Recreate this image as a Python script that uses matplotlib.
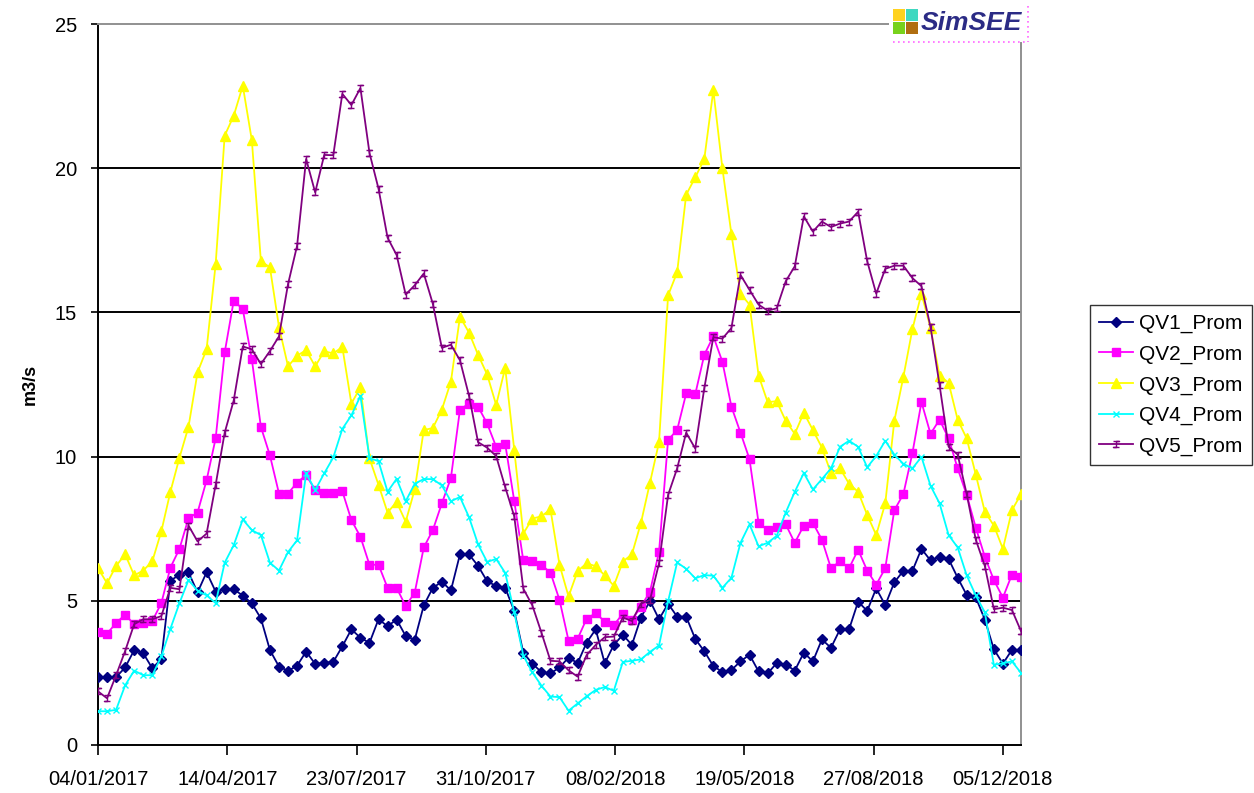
import matplotlib
matplotlib.use("Agg")
import matplotlib.pyplot as plt
import matplotlib.dates as mdates
from matplotlib.patches import Rectangle
import pandas as pd

# weekly data, 04/01/2017 .. 19/12/2018
start = "2017-01-04"
n_weeks = 103
dates = pd.date_range(start, periods=n_weeks, freq="7D")

qv1 = [2.35, 2.35, 2.35, 2.69, 3.29, 3.18, 2.66, 2.98, 5.70, 5.90,
       5.99, 5.29, 5.99, 5.32, 5.40, 5.40, 5.18, 4.91, 4.39, 3.29,
       2.72, 2.57, 2.75, 3.24, 2.81, 2.85, 2.88, 3.42, 4.01, 3.72,
       3.54, 4.36, 4.12, 4.35, 3.78, 3.65, 4.84, 5.45, 5.66, 5.36,
       6.61, 6.61, 6.21, 5.68, 5.51, 5.45, 4.65, 3.20, 2.82, 2.53,
       2.48, 2.69, 3.03, 2.84, 3.55, 4.01, 2.83, 3.47, 3.82, 3.47,
       4.42, 5.00, 4.36, 4.90, 4.45, 4.45, 3.68, 3.25, 2.74, 2.53,
       2.60, 2.90, 3.13, 2.55, 2.48, 2.84, 2.79, 2.58, 3.20, 2.90,
       3.66, 3.37, 4.01, 4.01, 4.97, 4.65, 5.43, 4.85, 5.64, 6.04,
       6.04, 6.80, 6.40, 6.53, 6.45, 5.80, 5.20, 5.12, 4.35, 3.32,
       2.82, 3.30, 3.30]
qv2 = [3.92, 3.86, 4.23, 4.52, 4.18, 4.23, 4.30, 4.92, 6.15, 6.80,
       7.86, 8.06, 9.18, 10.63, 13.61, 15.41, 15.11, 13.37, 11.03, 10.04,
       8.72, 8.72, 9.10, 9.36, 8.84, 8.73, 8.73, 8.80, 7.80, 7.22,
       6.25, 6.25, 5.45, 5.45, 4.82, 5.28, 6.85, 7.45, 8.38, 9.26,
       11.63, 11.84, 11.73, 11.15, 10.34, 10.44, 8.46, 6.40, 6.37, 6.24,
       5.98, 5.03, 3.62, 3.68, 4.38, 4.57, 4.28, 4.16, 4.55, 4.33,
       4.80, 5.32, 6.70, 10.58, 10.92, 12.19, 12.16, 13.53, 14.17, 13.29,
       11.73, 10.83, 9.91, 7.70, 7.46, 7.57, 7.65, 7.01, 7.61, 7.70,
       7.12, 6.13, 6.37, 6.13, 6.77, 6.05, 5.56, 6.13, 8.14, 8.70,
       10.12, 11.89, 10.79, 11.28, 10.63, 9.59, 8.67, 7.54, 6.53, 5.72,
       5.11, 5.91, 5.81]
qv3 = [6.13, 5.61, 6.21, 6.61, 5.88, 6.05, 6.37, 7.41, 8.78, 9.96,
       11.03, 12.92, 13.72, 16.67, 21.13, 21.82, 22.86, 20.97, 16.78, 16.56,
       14.50, 13.13, 13.50, 13.69, 13.13, 13.65, 13.58, 13.80, 11.84, 12.40,
       9.94, 9.02, 8.06, 8.43, 7.74, 8.86, 10.92, 10.99, 11.63, 12.60,
       14.85, 14.30, 13.53, 12.85, 11.79, 13.08, 10.23, 7.33, 7.85, 7.93,
       8.17, 6.25, 5.15, 6.03, 6.30, 6.20, 5.88, 5.52, 6.36, 6.61,
       7.70, 9.10, 10.50, 15.59, 16.39, 19.08, 19.68, 20.32, 22.70, 20.00,
       17.71, 15.65, 15.27, 12.81, 11.89, 11.92, 11.24, 10.79, 11.52, 10.92,
       10.31, 9.43, 9.59, 9.06, 8.78, 7.98, 7.28, 8.38, 11.24, 12.76,
       14.42, 15.65, 14.46, 12.81, 12.56, 11.28, 10.63, 9.38, 8.09, 7.61,
       6.80, 8.14, 8.70]
qv4 = [1.17, 1.17, 1.22, 2.07, 2.58, 2.42, 2.42, 3.07, 4.03, 4.92,
       5.72, 5.35, 5.19, 4.92, 6.32, 6.93, 7.82, 7.45, 7.28, 6.32,
       6.05, 6.69, 7.10, 9.42, 8.84, 9.42, 9.97, 10.96, 11.43, 12.10,
       9.95, 9.84, 8.78, 9.23, 8.45, 9.06, 9.22, 9.22, 9.00, 8.45,
       8.60, 7.90, 6.96, 6.35, 6.45, 5.97, 4.60, 3.10, 2.52, 2.06,
       1.68, 1.66, 1.19, 1.44, 1.69, 1.91, 2.01, 1.88, 2.88, 2.92,
       2.97, 3.23, 3.45, 4.98, 6.33, 6.11, 5.78, 5.89, 5.87, 5.45,
       5.80, 7.01, 7.65, 6.89, 7.01, 7.25, 8.06, 8.78, 9.43, 8.86,
       9.22, 9.59, 10.34, 10.55, 10.34, 9.63, 10.02, 10.55, 10.07, 9.75,
       9.59, 9.99, 8.99, 8.38, 7.28, 6.85, 5.88, 5.19, 4.60, 2.78,
       2.83, 2.90, 2.50]
qv5 = [1.86, 1.62, 2.42, 3.26, 4.19, 4.36, 4.36, 4.47, 5.45, 5.40,
       7.61, 7.06, 7.33, 9.02, 10.83, 11.95, 13.82, 13.72, 13.21, 13.66,
       14.17, 15.98, 17.31, 20.32, 19.16, 20.46, 20.45, 22.58, 22.19, 22.78,
       20.53, 19.29, 17.59, 16.99, 15.62, 15.94, 16.35, 15.30, 13.77, 13.88,
       13.34, 12.11, 10.50, 10.31, 10.02, 8.94, 7.93, 5.42, 4.84, 3.90,
       2.92, 2.90, 2.59, 2.37, 3.12, 3.47, 3.74, 3.76, 4.42, 4.30,
       4.90, 5.03, 6.30, 8.67, 9.59, 10.83, 10.28, 12.37, 14.14, 14.09,
       14.46, 16.30, 15.78, 15.27, 15.06, 15.14, 16.08, 16.60, 18.33, 17.80,
       18.15, 17.96, 18.08, 18.15, 18.49, 16.78, 15.65, 16.51, 16.62, 16.62,
       16.19, 15.91, 14.50, 12.48, 10.34, 10.07, 8.70, 7.12, 6.21, 4.71,
       4.76, 4.68, 3.95]

names = ["QV1_Prom", "QV2_Prom", "QV3_Prom", "QV4_Prom", "QV5_Prom"]
series = [qv1, qv2, qv3, qv4, qv5]
colors = ["#000080", "#FF00FF", "#FFFF00", "#00FFFF", "#800080"]
ibar = [(-1, 1), (1, 1), (0, 1), (0, -1), (-1, -1), (1, -1)]
markers = ["D", "s", "^", "x", ibar]
msizes = [5, 5.5, 6.5, 4.5, 4.5]

W, H = 1254, 793
fig = plt.figure(figsize=(W / 100, H / 100), dpi=100)
plt.rcParams['font.family'] = ['Liberation Sans', 'DejaVu Sans']
ax = fig.add_axes([98 / W, 1 - 745 / H, (1021 - 98) / W, (745 - 24) / H])

handles = []
for s, c, m, ms, name in zip(series, colors, markers, msizes, names):
    mfc = 'none' if m is ibar else c
    h, = ax.plot(dates, s, color=c, lw=1.3, marker=m, markersize=ms,
                 markerfacecolor=mfc, markeredgecolor=c, markeredgewidth=1.0,
                 label=name, zorder=3)
    handles.append(h)

ax.set_ylim(0, 25)
ax.set_yticks([0, 5, 10, 15, 20, 25])
d0 = pd.Timestamp(start)
ax.set_xlim(d0, d0 + pd.Timedelta(days=714))
ax.set_xticks([d0 + pd.Timedelta(days=100 * i) for i in range(8)])
ax.xaxis.set_major_formatter(mdates.DateFormatter("%d/%m/%Y"))

for y in [5, 10, 15, 20]:
    ax.axhline(y, color="black", lw=1.4, zorder=1)

for side in ["top", "right"]:
    ax.spines[side].set_color("#909090")
    ax.spines[side].set_linewidth(1.4)
for side in ["left", "bottom"]:
    ax.spines[side].set_color("black")
    ax.spines[side].set_linewidth(1.4)

ax.tick_params(axis="x", length=7, width=1.2, labelsize=14.5, pad=11)
ax.tick_params(axis="y", length=5, width=1.2, labelsize=14.5, pad=10)
ax.set_ylabel("m3/s", fontsize=13, fontweight="bold")
ax.yaxis.set_label_coords(-0.064, 0.5)

fig.legend(handles=handles, labels=names, loc="center left",
           bbox_to_anchor=(1090 / W, 1 - 385 / H), fontsize=15,
           frameon=True, fancybox=False, edgecolor="black",
           handlelength=1.6, handletextpad=0.3, borderpad=0.45,
           labelspacing=0.55, borderaxespad=0)

# SimSEE logo
def fx(x):
    return x / W

def fy(y):
    return 1 - y / H

fig.add_artist(Rectangle((fx(889), fy(43)), fx(143), 43 / H, facecolor="white",
                         edgecolor="none", transform=fig.transFigure, zorder=5))
sq = [("#FFD21F", 893, 9), ("#3FD8C0", 906, 9), ("#78D21C", 893, 22), ("#B06E10", 906, 22)]
for c, x, y in sq:
    fig.add_artist(Rectangle((fx(x), fy(y + 12)), 12 / W, 12 / H, facecolor=c,
                             edgecolor="none", transform=fig.transFigure, zorder=6))
fig.text(fx(921), fy(23), "SimSEE", fontsize=19, fontstyle="italic",
         fontweight="bold", color="#2B2B85", va="center", ha="left", zorder=6)
fig.add_artist(plt.Line2D([fx(893), fx(1028)], [fy(42), fy(42)], color="#FF66FF",
                          lw=1.2, ls=(0, (1, 2)), transform=fig.transFigure, zorder=6))
fig.add_artist(plt.Line2D([fx(1028), fx(1028)], [fy(6), fy(42)], color="#FF66FF",
                          lw=1.2, ls=(0, (1, 2)), transform=fig.transFigure, zorder=6))
fig.add_artist(plt.Line2D([fx(1021), fx(1021)], [fy(43), fy(48)], color="#909090",
                          lw=1.4, transform=fig.transFigure, zorder=6))

fig.savefig("out.png", dpi=100, facecolor="white")
